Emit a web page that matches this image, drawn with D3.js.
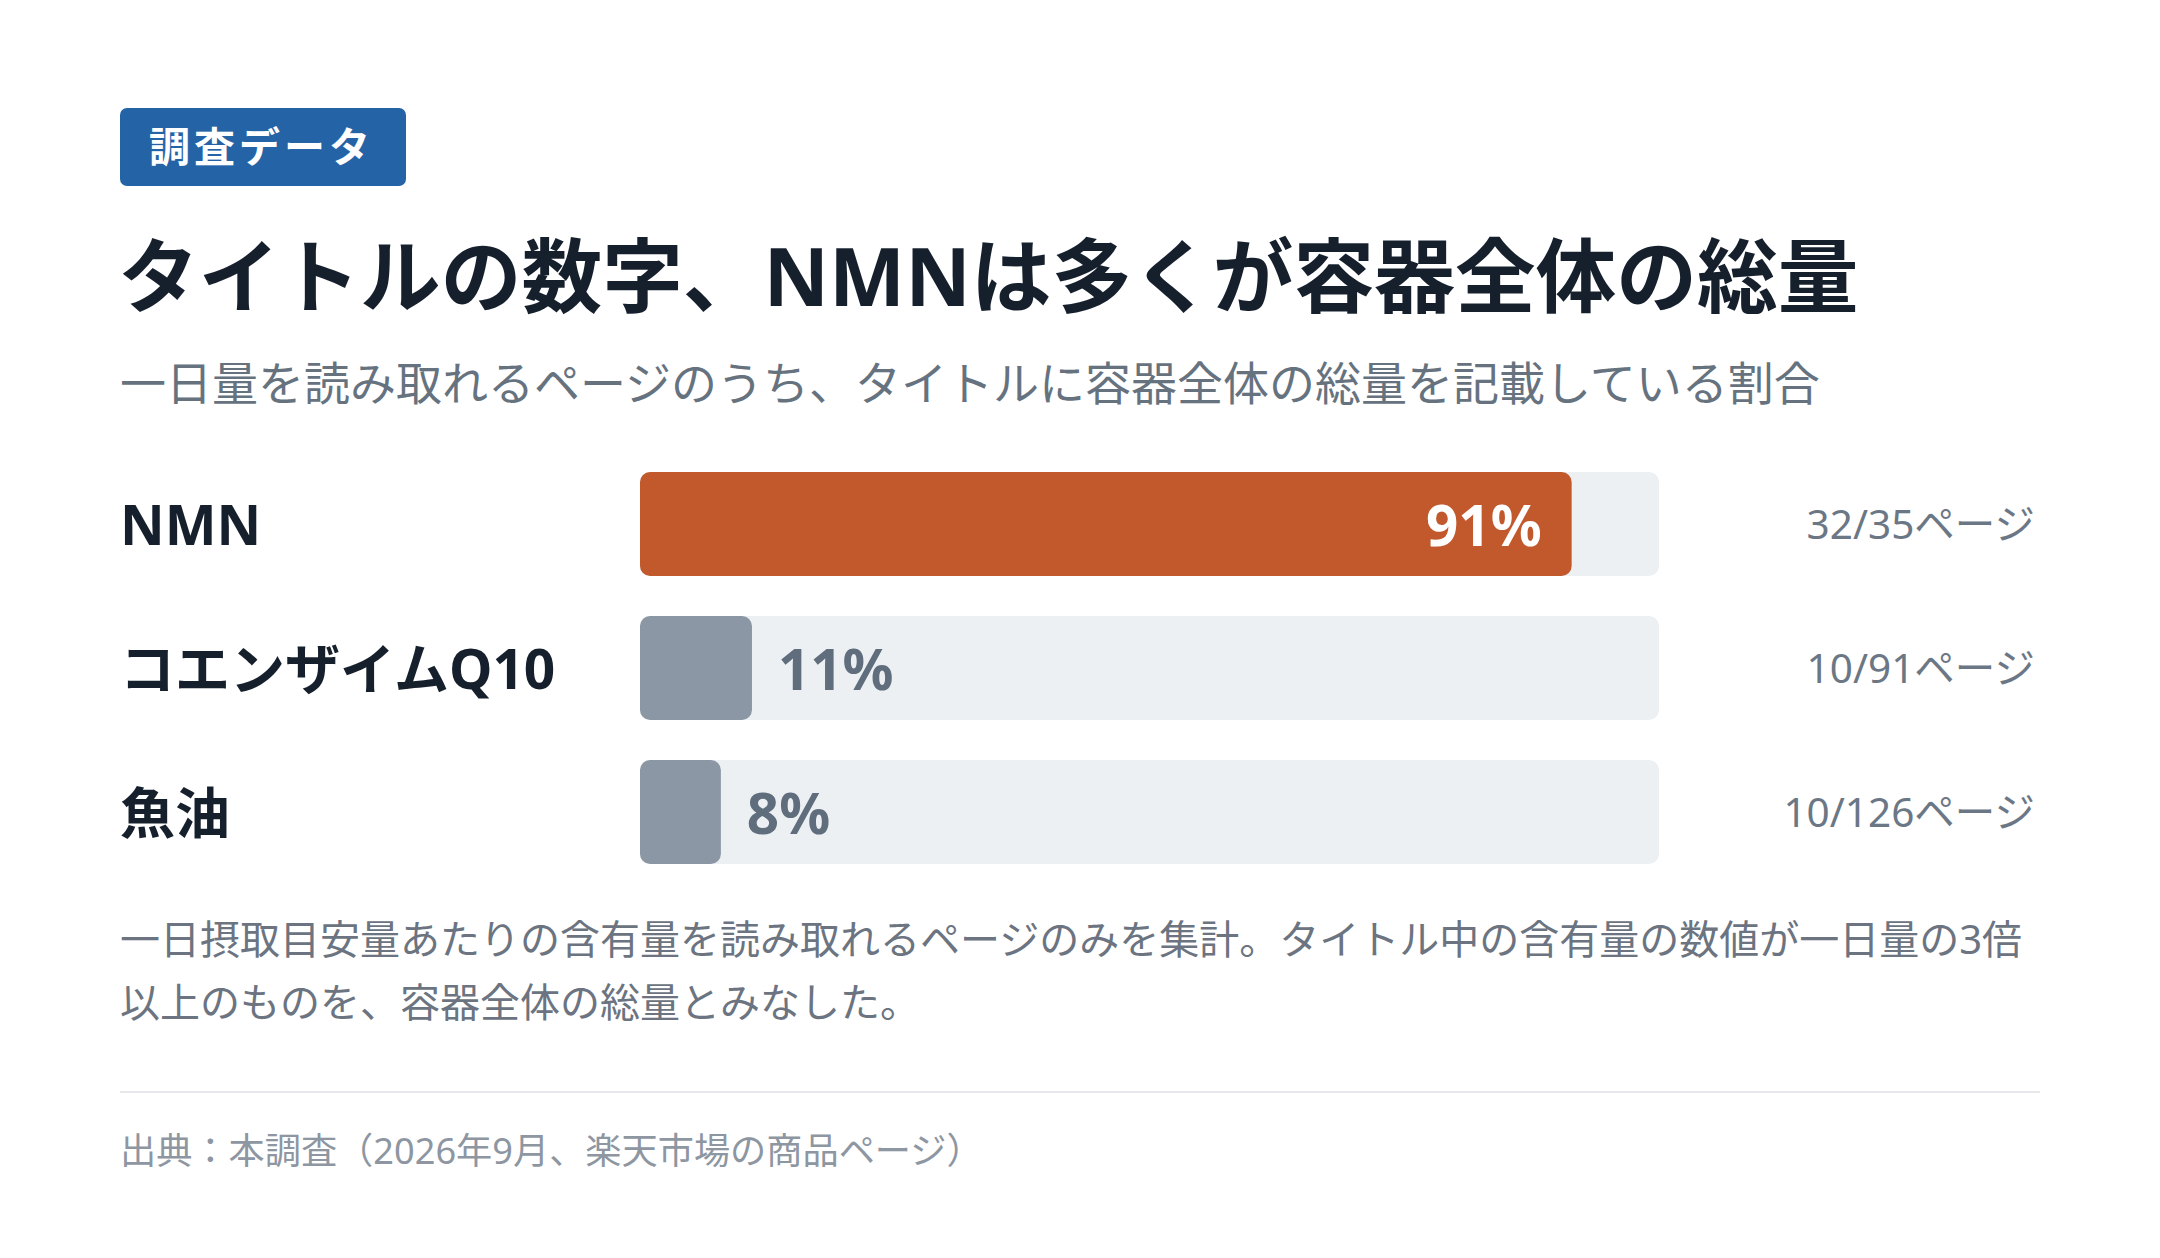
<!DOCTYPE html>
<html lang="ja">
<head>
<meta charset="utf-8">
<script src="https://cdn.jsdelivr.net/npm/d3@7"></script>
<style>
  html, body { margin: 0; padding: 0; background: #ffffff; }
  svg { display: block; font-family: "Noto Sans", "Noto Sans CJK JP", sans-serif; }
</style>
</head>
<body>
<div id="chart"></div>
<script>
// Chart data
var categories = ["NMN", "コエンザイムQ10", "魚油"];
var matchedPages = [32, 10, 10];
var totalPages = [35, 91, 126];
var highlighted = ["NMN"];

var badgeText = "調査データ";
var titleText = "タイトルの数字、NMNは多くが容器全体の総量";
var subtitleText = "一日量を読み取れるページのうち、タイトルに容器全体の総量を記載している割合";
var noteLines = [
    "一日摂取目安量あたりの含有量を読み取れるページのみを集計。タイトル中の含有量の数値が一日量の3倍",
    "以上のものを、容器全体の総量とみなした。"
];
var sourceText = "出典：本調査（2026年9月、楽天市場の商品ページ）";

var rows = categories.map(function(c, i) {
    return {
        name: c,
        matched: matchedPages[i],
        total: totalPages[i],
        share: matchedPages[i] / totalPages[i]
    };
});

var width = 2160, height = 1258;
var left = 120, right = 2040;

var svg = d3.select("#chart")
    .append("svg")
        .attr("width", width)
        .attr("height", height);

// Badge
var badge = svg.append("g");
var badgeLabel = badge.append("text")
    .attr("x", 149)
    .attr("y", 162)
    .attr("fill", "#ffffff")
    .attr("font-size", "41px")
    .attr("font-weight", 700)
    .attr("letter-spacing", "4px")
    .text(badgeText);
var bw = badgeLabel.node().getComputedTextLength();
badge.insert("rect", "text")
    .attr("x", left)
    .attr("y", 108)
    .attr("width", Math.max(286, bw + 58))
    .attr("height", 78)
    .attr("rx", 7)
    .attr("fill", "#2563a7");

// Title and subtitle
svg.append("text")
    .attr("x", left - 2)
    .attr("y", 306)
    .attr("fill", "#16202d")
    .attr("font-size", "80.7px")
    .attr("font-weight", 700)
    .text(titleText);

svg.append("text")
    .attr("x", left)
    .attr("y", 400)
    .attr("fill", "#66737f")
    .attr("font-size", "46px")
    .text(subtitleText);

// Scales
var x = d3.scaleLinear()
    .domain([0, 1])
    .range([640, 1659]);

var y = d3.scaleBand()
    .domain(categories)
    .range([472, 864])
    .paddingInner(40 / 144);

var rowGroup = svg.selectAll("g.row")
    .data(rows)
    .enter()
    .append("g")
    .attr("class", "row")
    .attr("transform", d => `translate(0, ${y(d.name)})`);

var bh = y.bandwidth();

// Category labels
rowGroup.append("text")
    .attr("x", left)
    .attr("y", bh / 2 + 21)
    .attr("fill", "#16202d")
    .attr("font-size", "55px")
    .attr("font-weight", 700)
    .text(d => d.name);

// Track
rowGroup.append("rect")
    .attr("x", x(0))
    .attr("y", 0)
    .attr("width", x(1) - x(0))
    .attr("height", bh)
    .attr("rx", 10)
    .attr("fill", "#edf0f3");

// Fill
rowGroup.append("rect")
    .attr("x", x(0))
    .attr("y", 0)
    .attr("width", d => x(d.share) - x(0))
    .attr("height", bh)
    .attr("rx", 10)
    .attr("fill", d => highlighted.indexOf(d.name) >= 0 ? "#c1592d" : "#8b97a4");

// Percent labels
rowGroup.append("text")
    .attr("x", d => highlighted.indexOf(d.name) >= 0 ? x(d.share) - 30 : x(d.share) + 26)
    .attr("y", bh / 2 + 22)
    .attr("text-anchor", d => highlighted.indexOf(d.name) >= 0 ? "end" : "start")
    .attr("fill", d => highlighted.indexOf(d.name) >= 0 ? "#ffffff" : "#5f6d7d")
    .attr("font-size", "56.5px")
    .attr("font-weight", 700)
    .text(d => Math.round(d.share * 100) + "%");

// Page counts
rowGroup.append("text")
    .attr("x", 2035)
    .attr("y", bh / 2 + 15)
    .attr("text-anchor", "end")
    .attr("fill", "#6b7785")
    .attr("font-size", "40.5px")
    .text(d => `${d.matched}/${d.total}ページ`);

// Note
svg.append("text")
    .attr("fill", "#6b7480")
    .attr("font-size", "40px")
    .selectAll("tspan")
    .data(noteLines)
    .enter()
    .append("tspan")
        .attr("x", left)
        .attr("y", (d, i) => 954 + i * 63)
        .text(d => d);

// Divider
svg.append("line")
    .attr("x1", left)
    .attr("x2", right)
    .attr("y1", 1092)
    .attr("y2", 1092)
    .attr("stroke", "#e6e8ec")
    .attr("stroke-width", 2);

// Source
svg.append("text")
    .attr("x", left)
    .attr("y", 1164)
    .attr("fill", "#8d96a1")
    .attr("font-size", "36.2px")
    .text(sourceText);
</script>
</body>
</html>
